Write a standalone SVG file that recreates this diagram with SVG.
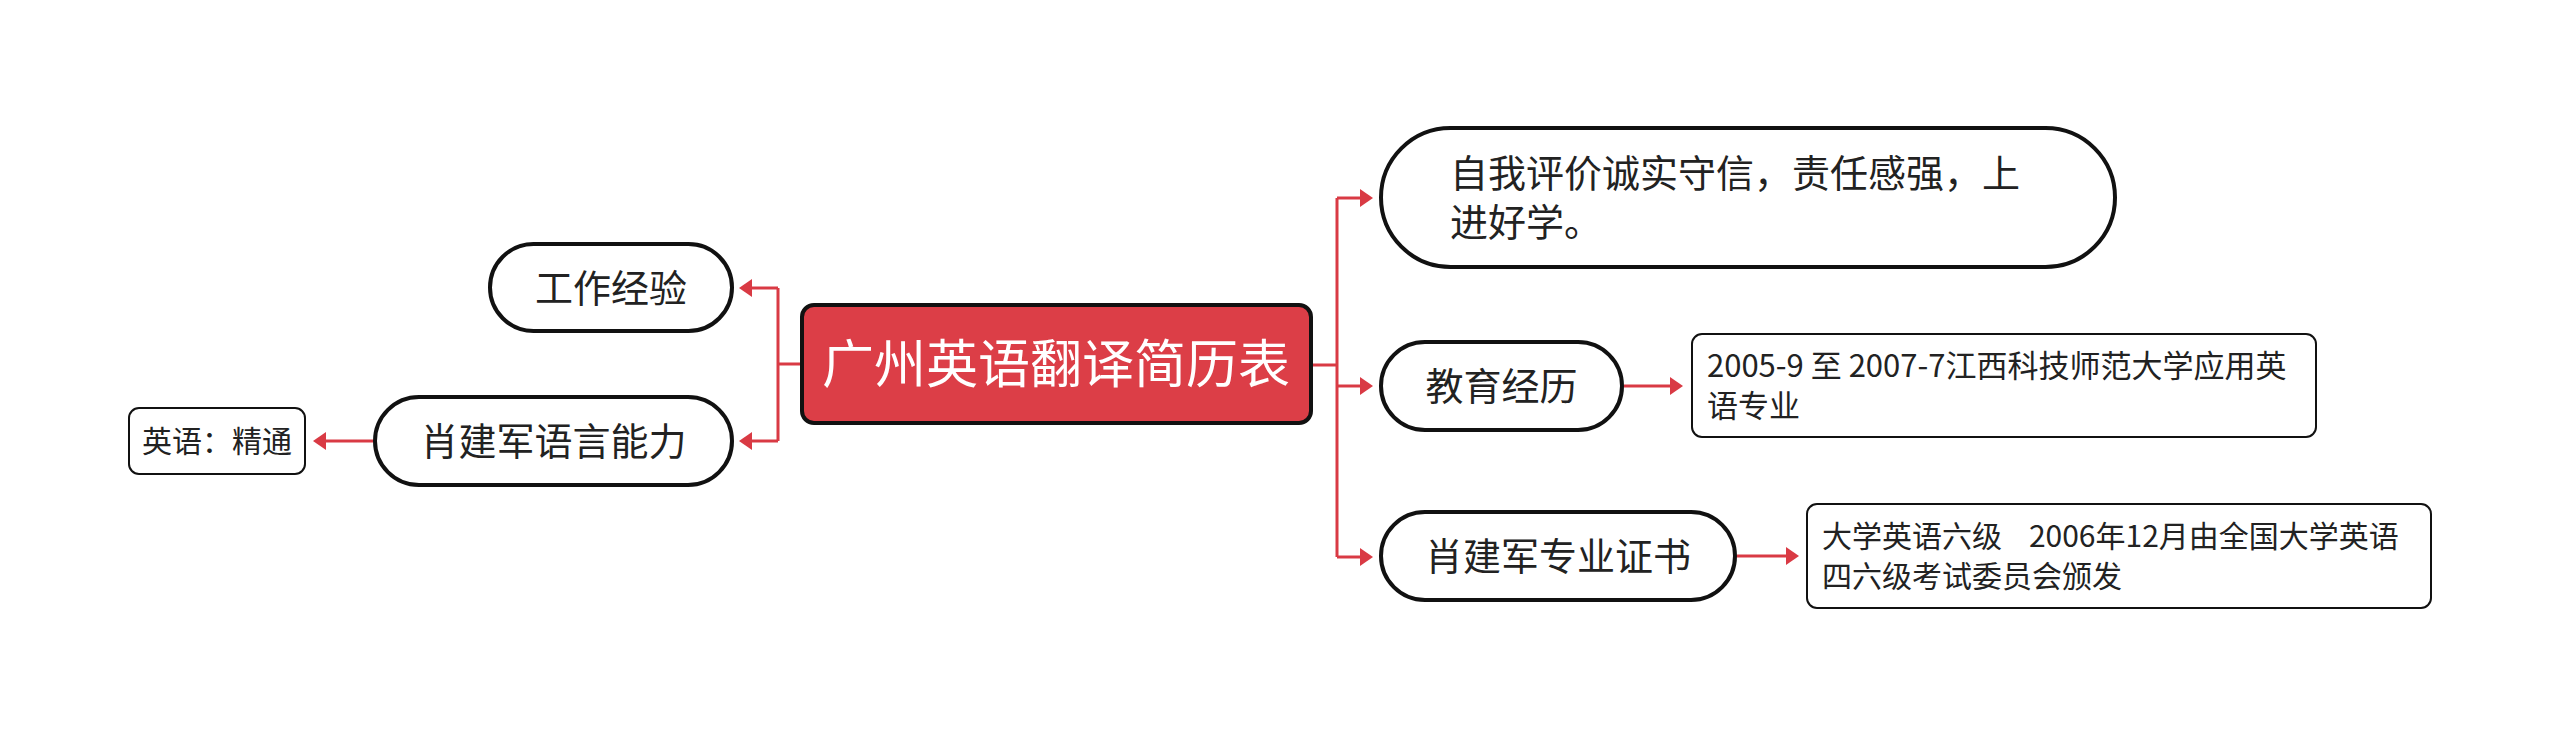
<svg xmlns="http://www.w3.org/2000/svg" width="2560" height="737" viewBox="0 0 2560 737">
<style>
.t{font-family:"Noto Sans CJK SC","Liberation Sans",sans-serif;fill:#222}
.pill{fill:#fff;stroke:#111;stroke-width:4}
.box{fill:#fff;stroke:#111;stroke-width:2}
.c{fill:none;stroke:#d93a44;stroke-width:3}
</style>
<defs>
<marker id="ah" markerUnits="userSpaceOnUse" markerWidth="13" markerHeight="18" refX="6" refY="9" orient="auto">
<path d="M0,0 L13,9 L0,18 z" fill="#d93a44"/>
</marker>
</defs>
<g id="connectors">
<path class="c" d="M800,364 H778 M778,288 V441"/>
<path class="c" d="M778,288 H746" marker-end="url(#ah)"/>
<path class="c" d="M778,441 H746" marker-end="url(#ah)"/>
<path class="c" d="M1313,365 H1337 M1337,198 V557"/>
<path class="c" d="M1337,198 H1366" marker-end="url(#ah)"/>
<path class="c" d="M1337,386 H1366" marker-end="url(#ah)"/>
<path class="c" d="M1337,557 H1366" marker-end="url(#ah)"/>
<path class="c" d="M1624,386 H1676" marker-end="url(#ah)"/>
<path class="c" d="M1737,556 H1792" marker-end="url(#ah)"/>
<path class="c" d="M373,441 H320" marker-end="url(#ah)"/>
</g>
<g id="root">
<rect x="802" y="305" width="509" height="118" rx="12" fill="#dc3e47" stroke="#111" stroke-width="4"/>
<text class="t" x="1056" y="383" font-size="52" text-anchor="middle" style="fill:#fff">广州英语翻译简历表</text>
</g>
<g id="n-self">
<rect class="pill" x="1381" y="128" width="734" height="139" rx="69.5"/>
<text class="t" font-size="38"><tspan x="1450" y="187">自我评价诚实守信，责任感强，上</tspan><tspan x="1450" y="236">进好学。</tspan></text>
</g>
<g id="n-edu">
<rect class="pill" x="1381" y="342" width="241" height="88" rx="44"/>
<text class="t" x="1501.5" y="400" font-size="38" text-anchor="middle">教育经历</text>
</g>
<g id="n-edu-detail">
<rect class="box" x="1692" y="334" width="624" height="103" rx="10"/>
<text class="t" font-size="31" xml:space="preserve"><tspan x="1707" y="377">2005-9 至 2007-7江西科技师范大学应用英</tspan><tspan x="1707" y="417">语专业</tspan></text>
</g>
<g id="n-cert">
<rect class="pill" x="1381" y="512" width="354" height="88" rx="44"/>
<text class="t" x="1558" y="570" font-size="38" text-anchor="middle">肖建军专业证书</text>
</g>
<g id="n-cert-detail">
<rect class="box" x="1807" y="504" width="624" height="104" rx="10"/>
<text class="t" font-size="30" xml:space="preserve"><tspan x="1822" y="547">大学英语六级    2006年12月由全国大学英语</tspan><tspan x="1822" y="587">四六级考试委员会颁发</tspan></text>
</g>
<g id="n-work">
<rect class="pill" x="490" y="244" width="242" height="87" rx="43.5"/>
<text class="t" x="611" y="302" font-size="38" text-anchor="middle">工作经验</text>
</g>
<g id="n-lang">
<rect class="pill" x="375" y="397" width="357" height="88" rx="44"/>
<text class="t" x="553.5" y="455" font-size="38" text-anchor="middle">肖建军语言能力</text>
</g>
<g id="n-lang-detail">
<rect class="box" x="129" y="408" width="176" height="66" rx="10"/>
<text class="t" x="217" y="452" font-size="30" text-anchor="middle">英语：精通</text>
</g>
</svg>
